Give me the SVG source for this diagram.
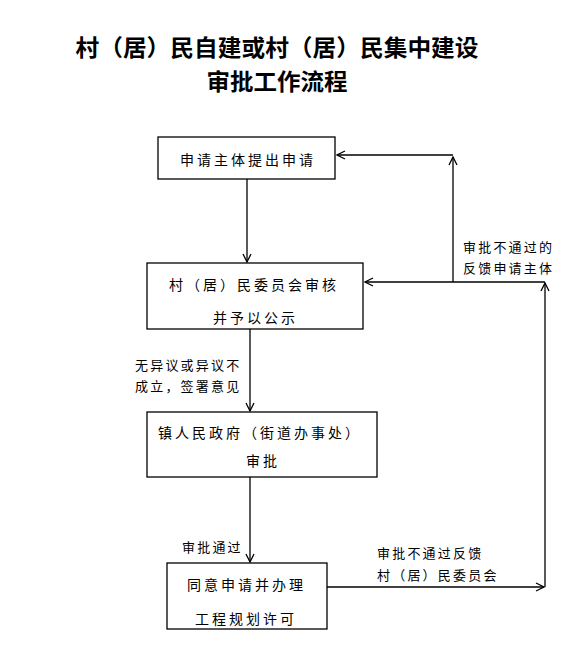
<svg xmlns="http://www.w3.org/2000/svg" width="583" height="647" viewBox="0 0 583 647">
<style>
.t{font-family:"Noto Sans CJK SC","Noto Sans CJK JP",sans-serif;fill:#000}
.title{font-size:23px;font-weight:bold}
.box{fill:#fff;stroke:#000;stroke-width:1.3}
.bt{font-size:14px;letter-spacing:3px}
.lb{font-size:13px;letter-spacing:2.2px}
.ln{fill:none;stroke:#000;stroke-width:1.3}
</style>
<defs>
<marker id="ah" markerWidth="10" markerHeight="10" refX="9" refY="5" orient="auto" markerUnits="userSpaceOnUse">
<path d="M1,1 L9,5 L1,9" fill="none" stroke="#000" stroke-width="1.3"/>
</marker>
</defs>
<rect width="583" height="647" fill="#fff"/>
<g id="title">
<text class="t title" x="277" y="56" text-anchor="middle" textLength="403" lengthAdjust="spacingAndGlyphs">村（居）民自建或村（居）民集中建设</text>
<text class="t title" x="277" y="90" text-anchor="middle" textLength="141" lengthAdjust="spacingAndGlyphs">审批工作流程</text>
</g>
<g id="connectors">
<line class="ln" x1="247" y1="179" x2="247" y2="262" marker-end="url(#ah)"/>
<line class="ln" x1="250" y1="329" x2="250" y2="411" marker-end="url(#ah)"/>
<line class="ln" x1="250" y1="477" x2="250" y2="562" marker-end="url(#ah)"/>
<line class="ln" x1="545" y1="282" x2="365" y2="282" marker-end="url(#ah)"/>
<line class="ln" x1="453" y1="282" x2="453" y2="157" marker-end="url(#ah)"/>
<line class="ln" x1="453" y1="155" x2="337" y2="155" marker-end="url(#ah)"/>
<line class="ln" x1="327" y1="587" x2="544" y2="587" marker-end="url(#ah)"/>
<line class="ln" x1="545" y1="587" x2="545" y2="283" marker-end="url(#ah)"/>
<text class="t lb" x="463" y="252">审批不通过的</text>
<text class="t lb" x="463" y="273">反馈申请主体</text>
<text class="t lb" x="135" y="370">无异议或异议不</text>
<text class="t lb" x="135" y="391">成立，签署意见</text>
<text class="t lb" x="182" y="552">审批通过</text>
<text class="t lb" x="377" y="558">审批不通过反馈</text>
<text class="t lb" x="377" y="580">村（居）民委员会</text>
</g>
<g id="n1">
<rect class="box" x="158" y="137" width="177" height="42"/>
<text class="t bt" x="180" y="165">申请主体提出申请</text>
</g>
<g id="n2">
<rect class="box" x="147" y="263" width="216" height="66"/>
<text class="t bt" x="169" y="290">村（居）民委员会审核</text>
<text class="t bt" x="213" y="323">并予以公示</text>
</g>
<g id="n3">
<rect class="box" x="147" y="412" width="230" height="65"/>
<text class="t bt" x="158" y="438">镇人民政府（街道办事处）</text>
<text class="t bt" x="246" y="466">审批</text>
</g>
<g id="n4">
<rect class="box" x="167" y="563" width="160" height="66"/>
<text class="t bt" x="187" y="590">同意申请并办理</text>
<text class="t bt" x="195" y="624">工程规划许可</text>
</g>
</svg>
